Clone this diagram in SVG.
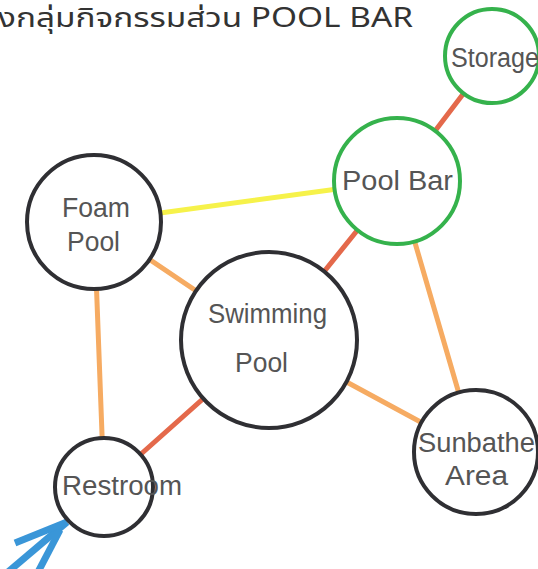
<svg xmlns="http://www.w3.org/2000/svg" width="538" height="569" viewBox="0 0 538 569">
<style>
.node{fill:#fff;stroke-width:4}
.dark{stroke:#2f2f33}
.green{stroke:#35b24c}
.lbl{font-family:"Liberation Sans","DejaVu Sans",sans-serif;font-size:27px;fill:#555}
.title{font-family:"Noto Sans Thai","Noto Sans","DejaVu Sans",sans-serif;font-size:27px;fill:#333}
.c{stroke-width:5;stroke-linecap:round;fill:none}
.red{stroke:#e4694b}
.org{stroke:#f6ab62}
.yel{stroke:#f6f24a}
</style>
<rect width="538" height="569" fill="#fff"/>
<text class="title" x="-2" y="27" textLength="415" lengthAdjust="spacingAndGlyphs">งกลุ่มกิจกรรมส่วน POOL BAR</text>
<g id="connectors">
<line class="c red" x1="492" y1="56" x2="397" y2="181"/>
<line class="c yel" x1="94" y1="222" x2="397" y2="181"/>
<line class="c org" x1="94" y1="222" x2="269" y2="340"/>
<line class="c red" x1="397" y1="181" x2="269" y2="340"/>
<line class="c org" x1="397" y1="181" x2="476" y2="452"/>
<line class="c org" x1="269" y1="340" x2="476" y2="452"/>
<line class="c org" x1="94" y1="222" x2="104" y2="487"/>
<line class="c red" x1="269" y1="340" x2="104" y2="487"/>
<g stroke="#3a96d8" stroke-width="7" stroke-linecap="butt" fill="none">
<line x1="8" y1="572" x2="67" y2="522"/>
<line x1="15" y1="543" x2="67" y2="522"/>
<line x1="38" y1="572" x2="60" y2="530"/>
</g>
</g>
<g id="storage"><circle class="node green" cx="492" cy="56" r="47"/><text class="lbl" x="451" y="67" textLength="88" lengthAdjust="spacingAndGlyphs">Storage</text></g>
<g id="poolbar"><circle class="node green" cx="397" cy="181" r="63"/><text class="lbl" x="342" y="190" textLength="111" lengthAdjust="spacingAndGlyphs">Pool Bar</text></g>
<g id="foampool"><circle class="node dark" cx="94" cy="222" r="67"/><text class="lbl" x="62" y="217" textLength="68" lengthAdjust="spacingAndGlyphs">Foam</text><text class="lbl" x="67" y="251" textLength="53" lengthAdjust="spacingAndGlyphs">Pool</text></g>
<g id="swimmingpool"><circle class="node dark" cx="269" cy="340" r="88"/><text class="lbl" x="208" y="323" textLength="119" lengthAdjust="spacingAndGlyphs">Swimming</text><text class="lbl" x="235" y="372" textLength="53" lengthAdjust="spacingAndGlyphs">Pool</text></g>
<g id="sunbathe"><circle class="node dark" cx="476" cy="452" r="62"/><text class="lbl" x="418" y="452" textLength="117" lengthAdjust="spacingAndGlyphs">Sunbathe</text><text class="lbl" x="445" y="485" textLength="63" lengthAdjust="spacingAndGlyphs">Area</text></g>
<g id="restroom"><circle class="node dark" cx="104" cy="487" r="49"/><text class="lbl" x="62" y="495" textLength="120" lengthAdjust="spacingAndGlyphs">Restroom</text></g>
</svg>
